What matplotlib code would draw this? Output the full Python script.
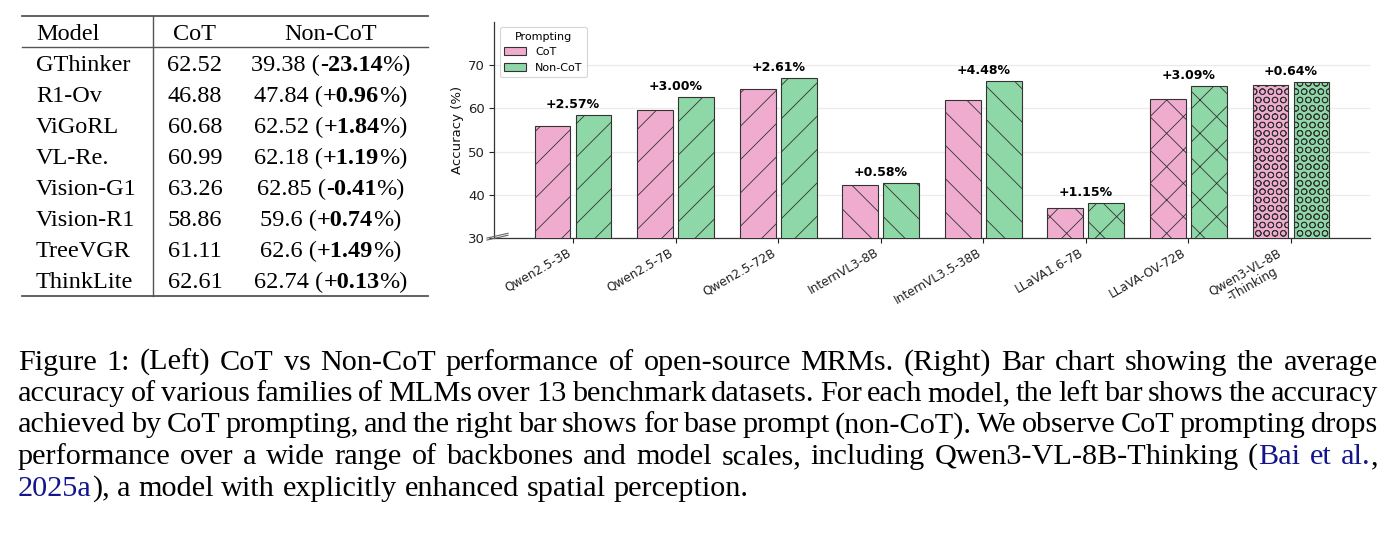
import matplotlib
matplotlib.use("Agg")
import matplotlib.pyplot as plt
from matplotlib.patches import Patch
from matplotlib.lines import Line2D

# ---------------- data ----------------
table_models = ["GThinker", "R1-Ov", "ViGoRL", "VL-Re.", "Vision-G1", "Vision-R1", "TreeVGR", "ThinkLite"]
table_cot = [62.52, 46.88, 60.68, 60.99, 63.26, 58.86, 61.11, 62.61]
table_noncot = [39.38, 47.84, 62.52, 62.18, 62.85, 59.6, 62.6, 62.74]
table_delta = [-23.14, 0.96, 1.84, 1.19, -0.41, 0.74, 1.49, 0.13]
table_headers = ["Model", "CoT", "Non-CoT"]

bar_models = ["Qwen2.5-3B", "Qwen2.5-7B", "Qwen2.5-72B", "InternVL3-8B",
              "InternVL3.5-38B", "LLaVA1.6-7B", "LLaVA-OV-72B", "Qwen3-VL-8B\n-Thinking"]
cot_acc = [55.93, 59.70, 64.41, 42.20, 61.90, 37.10, 62.15, 65.50]
noncot_acc = [58.50, 62.70, 67.02, 42.78, 66.38, 38.25, 65.24, 66.14]
gains = [2.57, 3.00, 2.61, 0.58, 4.48, 1.15, 3.09, 0.64]
hatches = ['/', '/', '/', '\\', '\\', 'x', 'x', 'OO']
series_names = ["CoT", "Non-CoT"]
yticks = [30, 40, 50, 60, 70]

BLUE = '#14148c'
caption_lines = [
    [[("Figure", 'k')], [("1:", 'k')], [("(Left)", 'k')], [("CoT", 'k')], [("vs", 'k')], [("Non-CoT", 'k')],
     [("performance", 'k')], [("of", 'k')], [("open-source", 'k')], [("MRMs.", 'k')], [("(Right)", 'k')],
     [("Bar", 'k')], [("chart", 'k')], [("showing", 'k')], [("the", 'k')], [("average", 'k')]],
    [[(w, 'k')] for w in "accuracy of various families of MLMs over 13 benchmark datasets. For each model, the left bar shows the accuracy".split()],
    [[(w, 'k')] for w in "achieved by CoT prompting, and the right bar shows for base prompt (non-CoT). We observe CoT prompting drops".split()],
    [[(w, 'k')] for w in "performance over a wide range of backbones and model scales, including Qwen3-VL-8B-Thinking".split()]
    + [[("(", 'k'), ("Bai", BLUE)], [("et", BLUE)], [("al.", BLUE), (",", 'k')]],
    [[("2025a", BLUE), ("),", 'k')]] + [[(w, 'k')] for w in "a model with explicitly enhanced spatial perception.".split()],
]

# ---------------- figure ----------------
W, H = 1395, 534
fig = plt.figure(figsize=(W / 100, H / 100), dpi=100)
fig.patch.set_facecolor('white')
renderer = fig.canvas.get_renderer()

def fx(px):
    return px / W

def fy(py):
    return 1 - py / H

SERIF = ['Liberation Serif', 'DejaVu Serif']
TFS = 17.5

def text_width(t):
    bb = t.get_window_extent(renderer=renderer)
    return bb.width

def draw_segments(segs, x, y, align='left', size=TFS):
    """segs: list of (text, weight). Draw sequentially. x,y in px."""
    objs = []
    widths = []
    for s, wgt in segs:
        t = fig.text(0, fy(y), s, fontsize=size, family=SERIF, weight=wgt,
                     ha='left', va='baseline')
        objs.append(t)
        widths.append(text_width(t))
    total = sum(widths)
    if align == 'center':
        x0 = x - total / 2
    else:
        x0 = x
    for t, w in zip(objs, widths):
        t.set_x(fx(x0))
        x0 += w

# ---- table ----
rule_c = '#555555'
x_l, x_r, x_v = 22, 428, 153
y_top, y_head, y_bot = 15.7, 46.7, 295.5
fig.add_artist(Line2D([fx(x_l), fx(x_r)], [fy(y_top)] * 2, color=rule_c, lw=1.3))
fig.add_artist(Line2D([fx(x_l), fx(x_r)], [fy(y_head)] * 2, color=rule_c, lw=1.0))
fig.add_artist(Line2D([fx(x_l), fx(x_r)], [fy(y_bot)] * 2, color=rule_c, lw=1.3))
fig.add_artist(Line2D([fx(x_v)] * 2, [fy(y_top), fy(y_bot)], color=rule_c, lw=1.0))

col_model_x, col_cot_x, col_non_x = 36, 195, 331
head_base = 40
draw_segments([(table_headers[0], 'normal')], col_model_x, head_base)
draw_segments([(table_headers[1], 'normal')], col_cot_x, head_base, align='center')
draw_segments([(table_headers[2], 'normal')], col_non_x, head_base, align='center')
for i, m in enumerate(table_models):
    yb = 71 + 31 * i
    draw_segments([(m, 'normal')], col_model_x, yb)
    draw_segments([(f"{table_cot[i]:.2f}", 'normal')], col_cot_x, yb, align='center')
    draw_segments([(f"{table_noncot[i]:g} (", 'normal'), (f"{table_delta[i]:+.2f}", 'bold'),
                   ("%)", 'normal')], col_non_x, yb, align='center')

# ---- caption ----
CAP_X0, CAP_X1 = 18, 1378
probe = fig.text(0, 0, "2025a), a model with explicitly enhanced spatial perception.",
                 fontsize=10, family=SERIF)
pw = text_width(probe)
probe.remove()
CFS = 10 * 730 / pw
cap_base = [369.5, 401, 432.5, 464, 495.5]

def word_width(word):
    tot = 0
    for s, c in word:
        t = fig.text(0, 0, s, fontsize=CFS, family=SERIF)
        tot += text_width(t)
        t.remove()
    return tot

space_t = fig.text(0, 0, "a a", fontsize=CFS, family=SERIF)
sw = text_width(space_t)
space_t.remove()
aa = fig.text(0, 0, "aa", fontsize=CFS, family=SERIF)
sw = sw - text_width(aa)
aa.remove()

for li, line in enumerate(caption_lines):
    widths = [word_width(w) for w in line]
    if li < len(caption_lines) - 1:
        gap = (CAP_X1 - CAP_X0 - sum(widths)) / (len(line) - 1)
    else:
        gap = sw
    x = CAP_X0
    for word, ww in zip(line, widths):
        xx = x
        for s, c in word:
            t = fig.text(fx(xx), fy(cap_base[li]), s, fontsize=CFS, family=SERIF,
                         color=c, ha='left', va='baseline')
            xx += text_width(t)
        x += ww + gap

# ---- bar chart ----
plt.rcParams['hatch.linewidth'] = 0.6
ax = fig.add_axes([fx(494), fy(238.3), fx(1370) - fx(494), (238.3 - 21.7) / H])
PINK = '#efaccf'
GREEN = '#8ed8a7'
EDGE = '#333333'
xs = list(range(len(bar_models)))
width = 0.35
for i in xs:
    ax.bar(i - 0.2, cot_acc[i], width, color=PINK, edgecolor=EDGE, linewidth=0.8,
           hatch=hatches[i], zorder=3)
    ax.bar(i + 0.2, noncot_acc[i], width, color=GREEN, edgecolor=EDGE, linewidth=0.8,
           hatch=hatches[i], zorder=3)
    top = max(cot_acc[i], noncot_acc[i])
    ax.text(i, top + 0.8, f"+{gains[i]:.2f}%", ha='center', va='bottom',
            fontsize=9, fontweight='bold', zorder=4)

ax.set_ylim(30, 80)
ax.set_xlim(-0.77, len(bar_models) - 1 + 0.77)
ax.set_yticks(yticks)
ax.set_xticks(xs)
ax.set_xticklabels(bar_models, rotation=30, ha='right',
                   fontsize=8.7, multialignment='center')
ax.tick_params(axis='y', labelsize=9.5, length=3.5, width=0.8, colors='#222222', pad=3)
ax.tick_params(axis='x', length=3.5, width=0.8, colors='#222222', pad=2)
for sp in ['top', 'right']:
    ax.spines[sp].set_visible(False)
for sp in ['left', 'bottom']:
    ax.spines[sp].set_color('#333333')
    ax.spines[sp].set_linewidth(0.9)
ax.yaxis.grid(True, color='#ebebeb', linewidth=0.9, zorder=0)
ax.set_axisbelow(True)
ax.set_ylabel("Accuracy (%)", fontsize=9.5, color='#111111', labelpad=3)

# axis break marks
for dy in (0.0, 0.009):
    ax.plot([-0.008, 0.016], [-0.008 + dy, 0.014 + dy], transform=ax.transAxes,
            color='#666666', lw=0.8, clip_on=False, zorder=5)

handles = [Patch(facecolor=PINK, edgecolor=EDGE, linewidth=0.8, label=series_names[0]),
           Patch(facecolor=GREEN, edgecolor=EDGE, linewidth=0.8, label=series_names[1])]
leg = ax.legend(handles=handles, title="Prompting", loc='upper left', fontsize=8,
                title_fontsize=8, frameon=True, fancybox=True, edgecolor='#cccccc')
leg.get_frame().set_linewidth(0.8)

fig.savefig("out.png", dpi=100, facecolor='white')
